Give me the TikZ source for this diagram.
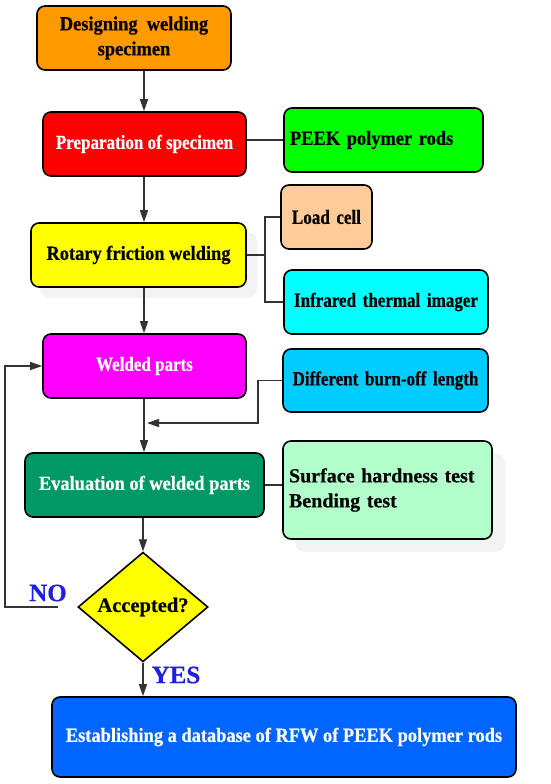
\documentclass[tikz,border=0pt]{standalone}
\usepackage{fontspec}
\setmainfont{Liberation Serif}[FakeStretch=0.92,FakeBold=0.5]
\newfontfamily\condfont{Liberation Serif}[FakeStretch=0.85,FakeBold=0.5]
\newfontfamily\plainfont{Liberation Serif}[FakeBold=0.5]
\usetikzlibrary{arrows.meta,shapes.geometric}
\definecolor{cOrange}{HTML}{FF9900}
\definecolor{cRed}{HTML}{FF0000}
\definecolor{cGreen}{HTML}{00FF00}
\definecolor{cYellow}{HTML}{FFFF00}
\definecolor{cPeach}{HTML}{FFCC99}
\definecolor{cCyan}{HTML}{00FFFF}
\definecolor{cMag}{HTML}{FF00FF}
\definecolor{cBurn}{HTML}{00CCFF}
\definecolor{cEval}{HTML}{009966}
\definecolor{cLight}{HTML}{B3FFCC}
\definecolor{cFinal}{HTML}{0066FF}
\definecolor{cLabel}{HTML}{1F1FE0}
\definecolor{cLine}{HTML}{333333}
\definecolor{cShadow}{HTML}{F3F3F3}
\tikzset{
  box/.style={draw=black, line width=1.6pt, rounded corners=8pt, inner sep=0pt,
    font=\fontsize{20}{25}\selectfont\bfseries, align=center},
  condbox/.style={box, font=\fontsize{20}{25}\selectfont\condfont\bfseries},
  sidebox/.style={box, inner xsep=6pt, align=left},
  conn/.style={draw=cLine, line width=1.2pt},
  arr/.style={conn, -{Triangle[length=12pt,width=8pt]}},
  lbl/.style={text=cLabel, font=\fontsize{25}{25}\selectfont\plainfont\bfseries, inner sep=0pt},
  shadowbox/.style={fill=cShadow, rounded corners=10pt, draw=none}
}
\begin{document}
\begin{tikzpicture}[x=1pt,y=-1pt]
\useasboundingbox (0,0) rectangle (550,784);
\fill[white] (0,0) rectangle (550,784);
% shadows
\fill[shadowbox] (40,232) rectangle (257,298);
\fill[shadowbox] (295,453) rectangle (505,552);
% main column
\node[box, fill=cOrange, minimum width=194pt, minimum height=64pt] (design) at (134,38)
  {Designing\ \ welding\\specimen};
\node[condbox, fill=cRed, text=white, minimum width=203pt, minimum height=64pt] (prep) at (144.5,144)
  {Preparation of specimen};
\node[box, fill=cYellow, minimum width=215pt, minimum height=64pt] (rfw) at (138.5,255)
  {Rotary friction welding};
\node[condbox, fill=cMag, text=white, minimum width=203pt, minimum height=64pt] (weld) at (144.5,366)
  {Welded parts};
\node[box, fill=cEval, text=white, minimum width=239pt, minimum height=64pt] (eval) at (144.5,485)
  {Evaluation of welded parts};
\node[diamond, draw=black, line width=1.6pt, fill=cYellow, minimum width=130pt, minimum height=68pt,
  inner sep=0pt, font=\fontsize{20.5}{22}\selectfont\plainfont\bfseries] (acc) at (143,607) {Accepted?};
\node[box, fill=cFinal, text=white, minimum width=464pt, minimum height=80pt] (final) at (284,737)
  {Establishing a database of RFW of PEEK polymer rods};
% side boxes
\node[sidebox, fill=cGreen, minimum width=199pt, text width=187pt, minimum height=64pt] (peek) at (383.5,140)
  {PEEK polymer rods};
\node[sidebox, condbox, fill=cPeach, minimum width=91pt, text width=79pt, minimum height=64pt] (load) at (326.5,217)
  {Load cell};
\node[sidebox, condbox, fill=cCyan, minimum width=204pt, text width=192pt, minimum height=64pt] (infra) at (386,302)
  {Infrared thermal imager};
\node[sidebox, condbox, fill=cBurn, minimum width=205pt, text width=193pt, minimum height=63pt] (burn) at (385.5,380.5)
  {Different burn-off length};
\node[sidebox, fill=cLight, minimum width=209pt, text width=197pt, minimum height=98pt,
  font=\fontsize{20}{25}\selectfont\plainfont\bfseries] (tests) at (387.5,490)
  {Surface hardness test\\Bending test};
% helper coordinates
\coordinate (spine) at (144,0);
\coordinate (brk) at (265,255);
\coordinate (bk2) at (258,423);
\coordinate (tip) at (147,423);
\coordinate (noend) at (58,607);
\coordinate (fbl) at (5,607);
% main arrows
\draw[arr] (design.south -| spine) -- (prep.north -| spine);
\draw[arr] (prep.south -| spine) -- (rfw.north -| spine);
\draw[arr] (rfw.south -| spine) -- (weld.north -| spine);
\draw[arr] (weld.south -| spine) -- (eval.north -| spine);
\draw[arr] (eval.south -| acc) -- (acc.north);
\draw[arr] (acc.south) -- (final.north -| acc);
% side connectors
\draw[conn] (peek.west -| prep.east) -- (peek.west);
\draw[conn] (rfw.east) -- (brk);
\draw[conn] (load.west) -| (brk) |- (infra.west);
\draw[arr] (burn.west) -| (bk2) -- (tip);
\draw[conn] (eval.east) -- (eval.east -| tests.west);
% feedback
\draw[arr] (noend) -- (fbl) |- (weld.west);
% labels
\node[lbl] (no) at (48,593) {NO};
\node[lbl] (yes) at (176,675) {YES};
\end{tikzpicture}
\end{document}
